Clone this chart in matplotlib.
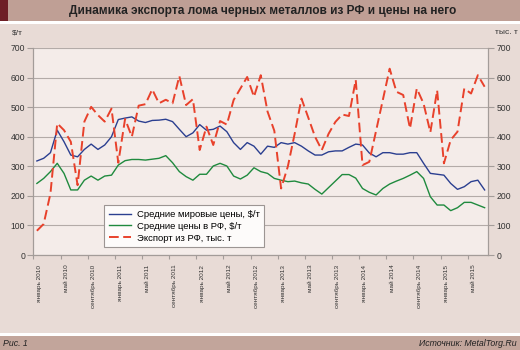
import matplotlib
matplotlib.use("Agg")
import matplotlib.pyplot as plt
from matplotlib.patches import Rectangle

plt.rcParams['font.family'] = ['Liberation Sans', 'DejaVu Sans']

# --- DATA (monthly, January 2010 .. July 2015) ---
world_price = [318, 327, 346, 422, 383, 338, 332, 357, 375, 357, 372, 400,
               458, 463, 467, 453, 448, 455, 456, 459, 451, 425, 400, 413,
               441, 422, 425, 436, 417, 380, 357, 380, 368, 341, 368, 364,
               380, 375, 380, 368, 352, 338, 338, 349, 352, 352, 364, 375,
               372, 345, 332, 346, 346, 341, 341, 346, 346, 310, 276, 273,
               270, 242, 222, 231, 248, 253, 220]
rf_price = [242, 259, 282, 310, 276, 220, 220, 253, 267, 253, 267, 270,
            304, 319, 323, 323, 321, 324, 327, 336, 312, 282, 265, 253,
            273, 273, 301, 310, 301, 267, 257, 270, 295, 282, 276, 259,
            253, 248, 250, 244, 240, 222, 206, 228, 250, 272, 272, 260,
            225, 212, 203, 225, 240, 250, 259, 270, 282, 259, 197, 169,
            169, 150, 160, 178, 178, 169, 160]
export_rf = [82, 105, 208, 445, 422, 383, 236, 451, 501, 473, 451, 495,
             312, 460, 400, 505, 510, 560, 513, 525, 513, 605, 507, 527,
             355, 434, 372, 453, 441, 524, 563, 602, 535, 608, 485, 420,
             225, 300, 410, 529, 465, 400, 355, 410, 450, 475, 470, 592,
             304, 315, 420, 525, 630, 552, 541, 428, 563, 512, 415, 557,
             310, 389, 417, 563, 546, 608, 569]
tick_labels = ['январь 2010', 'май 2010', 'сентябрь 2010',
               'январь 2011', 'май 2011', 'сентябрь 2011',
               'январь 2012', 'май 2012', 'сентябрь 2012',
               'январь 2013', 'май 2013', 'сентябрь 2013',
               'январь 2014', 'май 2014', 'сентябрь 2014',
               'январь 2015', 'май 2015']
series_names = ['Средние мировые цены, $/т', 'Средние цены в РФ, $/т',
                'Экспорт из РФ, тыс. т']
y_ticks = [0, 100, 200, 300, 400, 500, 600, 700]

x = list(range(len(world_price)))

# --- FIGURE / FRAME ---
fig = plt.figure(figsize=(5.2, 3.5), dpi=100, facecolor='white')
frame = [((0, 0.94), 1, 0.06, '#bf9f95'),
         ((0, 0.94), 0.0154, 0.06, '#6e1e26'),
         ((0, 0.049), 1, 0.882, '#e8dbd6'),
         ((0, 0), 1, 0.04, '#c2a59b')]
for xy, w, h, c in frame:
    fig.add_artist(Rectangle(xy, w, h, transform=fig.transFigure,
                             color=c, lw=0, zorder=-10))

fig.text(0.506, 0.969, 'Динамика экспорта лома черных металлов из РФ и цены на него',
         ha='center', va='center', fontsize=8.6, fontweight='bold', color='#222222')
fig.text(0.006, 0.02, 'Рис. 1', ha='left', va='center', fontsize=6.3,
         style='italic', color='#222222')
fig.text(0.994, 0.02, 'Источник: MetalTorg.Ru', ha='right', va='center',
         fontsize=6.3, style='italic', color='#222222')
fig.text(0.023, 0.906, '$/т', ha='left', va='center', fontsize=6, color='#333333')
fig.text(0.996, 0.906, 'тыс. т', ha='right', va='center', fontsize=6, color='#333333')

# --- AXES ---
ax = fig.add_axes([0.0644, 0.2714, 0.8741, 0.5915])
ax.set_facecolor('#f4ece9')
ax2 = ax.twinx()

l1, = ax.plot(x, world_price, color='#2b3f90', lw=1.0)
l2, = ax.plot(x, rf_price, color='#1f8a3e', lw=1.0)
l3, = ax2.plot(x, export_rf, color='#e8412b', lw=1.4, dashes=(5, 2.3))

for a in (ax, ax2):
    a.set_ylim(0, 700)
    a.set_yticks(y_ticks)
    a.set_xlim(-0.5, len(x) - 0.5)
    for s in a.spines.values():
        s.set_color('#a39c99')
        s.set_linewidth(0.8)
    a.spines['top'].set_visible(False)

ax.grid(axis='y', color='#b3aba8', lw=0.8)
ax.set_axisbelow(True)
ax.tick_params(axis='y', length=4, width=0.8, color='#a39c99', labelsize=6.2,
               pad=2, labelcolor='#333333')
ax2.tick_params(axis='y', length=4, width=0.8, color='#a39c99', labelsize=6.2,
                pad=2, labelcolor='#333333')

# boundaries as major ticks, month labels as minor ticks
ax.set_xticks([i - 0.5 for i in range(0, len(x), 4)])
ax.set_xticklabels([])
ax.set_xticks([i + 0.35 for i in range(0, len(x), 4)], minor=True)
ax.set_xticklabels(tick_labels, minor=True, rotation=90, fontsize=4.6,
                   color='#333333')
ax.tick_params(axis='x', which='major', length=3, width=0.8, color='#a39c99')
ax.tick_params(axis='x', which='minor', length=0, pad=7)
ax2.tick_params(axis='x', which='both', length=0)

leg = ax2.legend([l1, l2, l3], series_names, loc='lower left',
                 bbox_to_anchor=(0.156, 0.037), borderaxespad=0,
                 fontsize=6.8, frameon=True, fancybox=False,
                 edgecolor='#9c9593', facecolor='#fdfbfa', framealpha=1,
                 handlelength=2.3, handletextpad=0.6, labelspacing=0.3,
                 borderpad=0.5)
leg.get_frame().set_linewidth(0.8)

fig.savefig('out.png', dpi=100, facecolor=fig.get_facecolor())
